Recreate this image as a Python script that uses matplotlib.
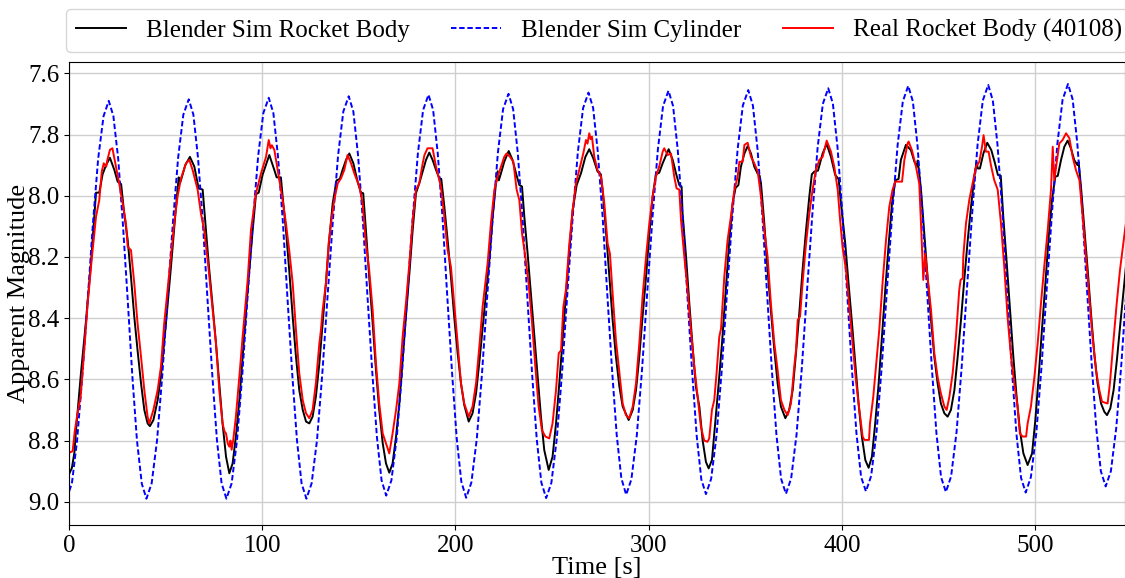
import numpy as np
import matplotlib
matplotlib.use("Agg")
import matplotlib.pyplot as plt
from matplotlib.ticker import FormatStrFormatter

plt.rcParams['font.family'] = 'serif'
plt.rcParams['font.serif'] = ['Liberation Serif', 'DejaVu Serif']

# Blender sim, cylinder (one row per rotation cycle)
cyl_t = [
    -1.3, 1.5, 4.2, 6.9, 9.7, 12.4, 15.1, 17.9, 20.6, 23.0, 25.5, 27.9, 30.4, 32.8, 35.2, 37.7,
    40.1, 42.8, 45.6, 48.3, 51.0, 53.8, 56.5, 59.2, 62.0, 64.4, 66.8, 69.3, 71.7, 74.2, 76.6, 79.0,
    81.5, 84.2, 87.0, 89.7, 92.4, 95.2, 97.9, 100.6, 103.4, 105.8, 108.2, 110.7, 113.1, 115.6, 118.0, 120.4,
    122.9, 125.6, 128.4, 131.1, 133.8, 136.6, 139.3, 142.0, 144.8, 147.2, 149.6, 152.1, 154.5, 157.0, 159.4, 161.8,
    164.2, 166.9, 169.7, 172.4, 175.1, 177.9, 180.6, 183.3, 186.1, 188.5, 190.9, 193.4, 195.8, 198.3, 200.7, 203.1,
    205.6, 208.3, 211.1, 213.8, 216.5, 219.3, 222.0, 224.7, 227.5, 229.9, 232.3, 234.8, 237.2, 239.7, 242.1, 244.5,
    247.0, 249.7, 252.5, 255.2, 257.9, 260.7, 263.4, 266.1, 268.9, 271.3, 273.7, 276.2, 278.6, 281.1, 283.5, 285.9,
    288.4, 291.1, 293.9, 296.6, 299.3, 302.1, 304.8, 307.5, 310.3, 312.7, 315.1, 317.6, 320.0, 322.5, 324.9, 327.3,
    329.7, 332.4, 335.2, 337.9, 340.6, 343.4, 346.1, 348.8, 351.6, 354.0, 356.4, 358.9, 361.3, 363.8, 366.2, 368.6,
    371.1, 373.8, 376.6, 379.3, 382.0, 384.8, 387.5, 390.2, 393.0, 395.4, 397.8, 400.3, 402.7, 405.2, 407.6, 410.0,
    412.5, 415.2, 418.0, 420.7, 423.4, 426.2, 428.9, 431.6, 434.4, 436.8, 439.2, 441.7, 444.1, 446.6, 449.0, 451.4,
    453.9, 456.6, 459.4, 462.1, 464.8, 467.6, 470.3, 473.0, 475.8, 478.2, 480.6, 483.1, 485.5, 488.0, 490.4, 492.8,
    495.2, 497.9, 500.7, 503.4, 506.1, 508.9, 511.6, 514.3, 517.1, 519.5, 521.9, 524.4, 526.8, 529.3, 531.7, 534.1,
    536.6, 539.3, 542.1, 544.8, 547.5,
]
cyl_mag = [
    8.990, 8.941, 8.800, 8.589, 8.340, 8.091, 7.880, 7.740, 7.690, 7.740, 7.880, 8.091, 8.340, 8.589, 8.800, 8.941,
    8.990, 8.940, 8.799, 8.587, 8.338, 8.088, 7.876, 7.735, 7.685, 7.735, 7.876, 8.088, 8.338, 8.587, 8.799, 8.940,
    8.990, 8.940, 8.798, 8.586, 8.335, 8.084, 7.872, 7.730, 7.680, 7.730, 7.872, 8.084, 8.335, 8.586, 8.798, 8.940,
    8.990, 8.940, 8.798, 8.584, 8.333, 8.081, 7.868, 7.725, 7.675, 7.725, 7.866, 8.078, 8.328, 8.577, 8.789, 8.930,
    8.980, 8.930, 8.788, 8.576, 8.325, 8.074, 7.862, 7.720, 7.670, 7.720, 7.863, 8.076, 8.328, 8.579, 8.793, 8.935,
    8.987, 8.937, 8.794, 8.580, 8.327, 8.075, 7.860, 7.717, 7.667, 7.717, 7.860, 8.075, 8.327, 8.580, 8.794, 8.937,
    8.988, 8.938, 8.794, 8.579, 8.326, 8.072, 7.857, 7.714, 7.663, 7.713, 7.855, 8.067, 8.318, 8.569, 8.781, 8.923,
    8.977, 8.927, 8.784, 8.570, 8.317, 8.065, 7.850, 7.707, 7.657, 7.707, 7.850, 8.065, 8.317, 8.570, 8.784, 8.927,
    8.975, 8.925, 8.782, 8.568, 8.315, 8.063, 7.848, 7.705, 7.655, 7.705, 7.848, 8.063, 8.315, 8.568, 8.782, 8.925,
    8.974, 8.924, 8.780, 8.565, 8.312, 8.058, 7.843, 7.700, 7.649, 7.699, 7.842, 8.057, 8.309, 8.562, 8.776, 8.919,
    8.966, 8.916, 8.772, 8.557, 8.304, 8.050, 7.835, 7.692, 7.641, 7.692, 7.836, 8.052, 8.306, 8.560, 8.776, 8.920,
    8.968, 8.917, 8.773, 8.557, 8.303, 8.049, 7.833, 7.689, 7.638, 7.689, 7.833, 8.050, 8.306, 8.561, 8.778, 8.922,
    8.970, 8.919, 8.775, 8.558, 8.303, 8.047, 7.830, 7.686, 7.635, 7.685, 7.828, 8.041, 8.293, 8.544, 8.758, 8.900,
    8.950, 8.900, 8.757, 8.543, 8.290,
]

# Blender sim, rocket body: (time s, magnitude)
body_points = [
    (0.0, 8.910), (1.5, 8.890), (2.8, 8.840), (3.6, 8.770), (6.2, 8.580), (8.8, 8.410), (11.4, 8.220),
    (14.0, 7.990), (15.7, 7.990), (17.4, 7.930), (19.2, 7.900), (21.2, 7.876), (23.5, 7.916), (25.2, 7.954),
    (27.0, 7.962), (28.6, 8.058), (30.4, 8.145), (32.1, 8.265), (33.8, 8.395), (35.5, 8.505), (37.3, 8.613),
    (39.0, 8.700), (40.7, 8.744), (41.9, 8.753), (43.7, 8.733), (45.9, 8.668), (47.6, 8.590), (50.2, 8.417),
    (52.8, 8.232), (55.4, 8.036), (56.8, 7.940), (57.3, 7.960), (58.0, 7.949), (60.2, 7.900), (62.6, 7.873),
    (64.9, 7.905), (67.1, 7.976), (69.2, 7.980), (70.6, 8.090), (72.3, 8.220), (74.4, 8.363), (76.1, 8.483),
    (77.8, 8.613), (79.5, 8.744), (81.3, 8.853), (83.0, 8.907), (84.7, 8.875), (86.4, 8.787), (88.2, 8.668),
    (89.9, 8.526), (92.5, 8.308), (95.1, 8.112), (96.8, 7.995), (98.2, 7.990), (100.2, 7.932), (103.7, 7.867),
    (106.3, 7.916), (107.5, 7.940), (109.7, 7.940), (110.6, 8.003), (112.3, 8.112), (114.0, 8.243),
    (115.8, 8.395), (117.5, 8.526), (119.2, 8.635), (121.0, 8.700), (122.7, 8.738), (124.4, 8.744),
    (126.1, 8.722), (127.8, 8.657), (129.6, 8.548), (131.3, 8.417), (133.0, 8.286), (134.7, 8.145),
    (136.5, 8.025), (138.5, 7.950), (140.2, 7.945), (141.6, 7.916), (143.4, 7.883), (145.1, 7.862),
    (147.2, 7.894), (149.4, 7.954), (151.1, 7.990), (152.3, 7.992), (153.7, 8.112), (155.4, 8.265),
    (157.2, 8.417), (158.9, 8.570), (160.6, 8.700), (162.4, 8.809), (164.1, 8.875), (165.8, 8.905),
    (167.5, 8.875), (169.3, 8.787), (171.0, 8.679), (172.7, 8.537), (174.4, 8.395), (176.2, 8.254),
    (177.9, 8.112), (179.6, 7.992), (181.3, 7.960), (183.1, 7.921), (184.8, 7.883), (186.5, 7.859),
    (188.2, 7.883), (190.0, 7.916), (191.7, 7.943), (192.7, 7.945), (194.3, 8.036), (196.0, 8.145),
    (197.7, 8.265), (199.4, 8.395), (201.2, 8.515), (202.9, 8.613), (204.6, 8.684), (206.9, 8.738),
    (208.9, 8.711), (210.7, 8.646), (212.7, 8.526), (215.0, 8.374), (217.6, 8.210), (219.3, 8.069),
    (221.0, 7.960), (221.9, 7.920), (222.5, 7.950), (223.6, 7.927), (225.3, 7.889), (227.6, 7.854),
    (229.6, 7.883), (231.4, 7.927), (233.1, 7.965), (234.5, 7.970), (235.7, 8.069), (237.4, 8.189),
    (239.1, 8.320), (240.9, 8.461), (242.6, 8.592), (244.3, 8.722), (246.0, 8.831), (248.3, 8.896),
    (250.3, 8.853), (252.1, 8.744), (253.8, 8.613), (255.5, 8.472), (257.2, 8.330), (259.0, 8.178),
    (260.7, 8.047), (262.8, 7.965), (265.0, 7.927), (267.3, 7.873), (269.3, 7.848), (271.4, 7.878),
    (273.6, 7.921), (275.3, 7.930), (276.2, 7.980), (277.9, 8.112), (279.7, 8.265), (281.4, 8.406),
    (283.1, 8.526), (284.9, 8.624), (286.6, 8.689), (289.7, 8.733), (291.8, 8.700), (293.5, 8.635),
    (295.2, 8.526), (296.9, 8.395), (298.7, 8.265), (300.4, 8.123), (302.1, 8.003), (303.8, 7.930),
    (305.5, 7.925), (307.3, 7.894), (310.4, 7.848), (312.5, 7.883), (314.2, 7.927), (315.9, 7.965),
    (317.1, 7.970), (317.6, 8.058), (319.4, 8.199), (321.1, 8.352), (322.8, 8.494), (324.5, 8.624),
    (326.3, 8.690), (328.0, 8.800), (329.7, 8.870), (331.1, 8.891), (332.8, 8.864), (334.5, 8.744),
    (336.3, 8.613), (338.0, 8.483), (340.1, 8.297), (341.8, 8.145), (343.5, 8.025), (345.0, 7.975),
    (346.5, 7.965), (347.8, 7.905), (349.6, 7.862), (351.3, 7.838), (353.0, 7.862), (354.7, 7.905),
    (356.4, 7.927), (357.5, 7.935), (358.2, 7.960), (359.9, 8.090), (361.6, 8.243), (363.3, 8.374),
    (365.1, 8.505), (366.8, 8.613), (368.5, 8.689), (370.8, 8.727), (372.8, 8.700), (374.6, 8.635),
    (376.3, 8.515), (378.0, 8.385), (379.7, 8.243), (381.5, 8.112), (383.2, 8.003), (384.5, 7.930),
    (385.8, 7.921), (387.7, 7.918), (390.1, 7.862), (392.2, 7.831), (394.4, 7.873), (396.6, 7.932),
    (398.4, 7.946), (399.4, 8.014), (401.8, 8.156), (403.5, 8.286), (405.3, 8.417), (407.0, 8.548),
    (408.7, 8.679), (410.4, 8.787), (412.2, 8.864), (413.9, 8.889), (415.6, 8.853), (417.3, 8.744),
    (419.1, 8.613), (420.8, 8.461), (422.5, 8.308), (424.3, 8.156), (426.0, 8.025), (427.7, 7.950),
    (429.4, 7.945), (430.6, 7.883), (433.2, 7.834), (435.8, 7.851), (437.6, 7.889), (438.9, 7.905),
    (439.3, 7.885), (439.8, 7.910), (441.0, 7.980), (442.7, 8.123), (444.4, 8.265), (446.2, 8.406),
    (447.9, 8.526), (449.6, 8.613), (451.3, 8.679), (453.1, 8.711), (454.8, 8.722), (456.5, 8.700),
    (458.3, 8.635), (460.0, 8.526), (461.7, 8.406), (463.4, 8.275), (465.2, 8.145), (466.9, 8.036),
    (468.6, 7.938), (469.8, 7.890), (470.4, 7.911), (471.5, 7.911), (473.3, 7.862), (475.3, 7.827),
    (477.4, 7.851), (479.1, 7.889), (480.8, 7.932), (482.3, 7.935), (483.6, 8.069), (485.4, 8.221),
    (487.1, 8.374), (488.8, 8.526), (490.5, 8.657), (492.2, 8.766), (494.0, 8.842), (496.2, 8.880),
    (498.5, 8.842), (500.2, 8.733), (501.9, 8.592), (503.6, 8.439), (505.4, 8.286), (507.1, 8.134),
    (508.8, 8.014), (510.5, 7.938), (511.8, 7.935), (513.5, 7.883), (515.2, 7.840), (516.9, 7.820),
    (518.6, 7.845), (520.3, 7.883), (522.0, 7.900), (522.6, 7.890), (523.8, 7.970), (525.5, 8.101),
    (527.3, 8.243), (529.0, 8.385), (530.7, 8.515), (532.4, 8.613), (534.2, 8.679), (535.9, 8.706),
    (537.3, 8.717), (539.0, 8.695), (540.7, 8.635), (542.4, 8.537), (544.2, 8.417), (546.6, 8.265),
    (548.0, 8.170),
]

# real rocket body 40108: (time s, magnitude)
real_points = [
    (0.0, 8.840), (1.9, 8.835), (3.0, 8.770), (4.2, 8.720), (5.3, 8.680), (6.0, 8.660), (7.9, 8.505),
    (9.7, 8.350), (11.9, 8.200), (14.0, 8.069), (15.7, 8.014), (17.0, 7.920), (18.0, 7.894), (19.3, 7.905),
    (19.8, 7.885), (21.2, 7.850), (22.5, 7.845), (24.3, 7.905), (26.0, 7.960), (27.8, 8.025), (29.5, 8.090),
    (30.4, 8.167), (32.1, 8.178), (33.8, 8.286), (35.5, 8.417), (37.3, 8.526), (39.0, 8.635), (40.7, 8.722),
    (41.6, 8.744), (43.7, 8.700), (45.9, 8.635), (47.6, 8.559), (49.3, 8.417), (51.9, 8.254), (54.5, 8.090),
    (56.2, 8.003), (58.0, 7.943), (60.6, 7.894), (62.3, 7.883), (64.0, 7.916), (66.6, 7.980), (68.3, 8.058),
    (70.0, 8.112), (71.8, 8.210), (73.5, 8.319), (76.1, 8.483), (77.8, 8.635), (79.5, 8.744), (80.5, 8.770),
    (81.3, 8.777), (82.2, 8.810), (83.0, 8.820), (83.6, 8.800), (84.2, 8.830), (85.0, 8.800), (86.4, 8.722),
    (88.2, 8.590), (89.9, 8.460), (92.5, 8.275), (94.2, 8.112), (96.8, 7.992), (99.4, 7.927), (102.0, 7.873),
    (103.4, 7.818), (104.3, 7.845), (105.0, 7.835), (106.3, 7.850), (108.9, 7.949), (110.6, 8.014),
    (112.3, 8.090), (114.0, 8.178), (115.8, 8.286), (117.5, 8.439), (119.2, 8.580), (121.0, 8.668),
    (122.7, 8.711), (124.4, 8.727), (126.1, 8.700), (127.8, 8.613), (129.6, 8.483), (130.4, 8.440),
    (131.3, 8.374), (133.0, 8.286), (134.4, 8.156), (135.6, 8.090), (137.3, 8.014), (139.1, 7.960),
    (140.8, 7.943), (142.5, 7.916), (144.2, 7.867), (146.0, 7.894), (147.7, 7.927), (150.3, 7.970),
    (152.0, 8.025), (153.7, 8.156), (155.4, 8.243), (157.2, 8.374), (158.9, 8.548), (160.6, 8.679),
    (162.4, 8.777), (164.1, 8.809), (165.8, 8.842), (167.5, 8.777), (169.3, 8.700), (171.0, 8.613),
    (172.7, 8.461), (174.4, 8.352), (176.2, 8.221), (177.9, 8.080), (179.6, 7.981), (181.3, 7.960),
    (183.1, 7.894), (184.0, 7.867), (185.6, 7.845), (188.2, 7.845), (190.0, 7.905), (192.5, 7.970),
    (194.3, 8.069), (196.0, 8.178), (197.7, 8.232), (199.4, 8.352), (201.2, 8.483), (202.9, 8.613),
    (204.6, 8.679), (206.9, 8.722), (208.9, 8.689), (210.7, 8.613), (212.4, 8.494), (214.1, 8.363),
    (216.7, 8.221), (218.4, 8.090), (220.2, 7.980), (221.9, 7.938), (223.6, 7.905), (225.3, 7.873),
    (226.5, 7.862), (228.3, 7.873), (230.0, 7.889), (231.7, 7.980), (233.1, 8.014), (234.5, 8.123),
    (236.2, 8.199), (237.9, 8.286), (239.7, 8.417), (241.4, 8.559), (243.1, 8.689), (244.8, 8.766),
    (246.6, 8.787), (248.6, 8.793), (250.3, 8.744), (252.1, 8.635), (253.5, 8.515), (254.7, 8.505),
    (255.9, 8.363), (257.2, 8.308), (259.0, 8.156), (260.7, 8.047), (262.4, 7.960), (264.5, 7.905),
    (266.2, 7.862), (267.6, 7.818), (268.4, 7.830), (269.3, 7.796), (270.0, 7.815), (270.7, 7.807),
    (271.9, 7.873), (273.6, 7.916), (275.4, 7.938), (277.1, 8.025), (278.8, 8.156), (280.0, 8.189),
    (281.4, 8.320), (283.1, 8.472), (284.9, 8.580), (286.6, 8.679), (288.3, 8.717), (290.0, 8.727),
    (291.8, 8.689), (293.5, 8.613), (295.2, 8.483), (296.9, 8.330), (298.7, 8.199), (300.4, 8.090),
    (302.1, 8.003), (303.8, 7.938), (305.5, 7.905), (307.3, 7.856), (308.1, 7.845), (309.9, 7.867),
    (311.6, 7.862), (313.3, 7.938), (314.5, 7.976), (315.9, 7.980), (316.8, 8.080), (318.5, 8.199),
    (320.2, 8.308), (321.9, 8.439), (323.7, 8.559), (325.4, 8.657), (327.1, 8.755), (328.8, 8.800),
    (330.5, 8.804), (331.4, 8.793), (332.8, 8.700), (334.0, 8.668), (335.2, 8.580), (336.6, 8.461),
    (337.5, 8.434), (339.2, 8.265), (340.9, 8.145), (342.6, 8.069), (344.4, 7.981), (346.1, 7.938),
    (347.0, 7.889), (348.7, 7.889), (349.6, 7.834), (351.3, 7.827), (353.0, 7.873), (354.7, 7.894),
    (356.5, 7.921), (358.2, 8.003), (359.9, 8.112), (361.6, 8.199), (363.3, 8.352), (365.1, 8.483),
    (366.8, 8.570), (368.5, 8.668), (370.3, 8.700), (372.0, 8.717), (373.7, 8.679), (375.4, 8.559),
    (376.3, 8.505), (377.2, 8.406), (378.4, 8.395), (379.7, 8.286), (381.5, 8.156), (383.2, 8.058),
    (384.9, 7.980), (386.6, 7.916), (388.4, 7.883), (390.1, 7.873), (392.2, 7.820), (394.4, 7.856),
    (396.1, 7.905), (397.9, 7.980), (399.0, 8.069), (400.4, 8.167), (402.2, 8.243), (403.9, 8.363),
    (405.6, 8.483), (407.3, 8.602), (409.1, 8.700), (410.8, 8.787), (411.7, 8.798), (414.1, 8.798),
    (414.6, 8.744), (416.3, 8.657), (417.7, 8.559), (419.4, 8.439), (421.1, 8.286), (422.9, 8.145),
    (424.6, 8.036), (426.3, 7.980), (427.7, 7.954), (431.2, 7.954), (432.4, 7.883), (434.1, 7.829),
    (434.6, 7.823), (436.3, 7.851), (438.4, 7.905), (440.1, 7.960), (441.0, 8.090), (442.2, 8.275),
    (443.2, 8.189), (444.4, 8.265), (446.2, 8.374), (447.9, 8.515), (449.6, 8.592), (451.3, 8.646),
    (453.1, 8.689), (454.3, 8.700), (455.7, 8.657), (457.4, 8.580), (459.1, 8.461), (460.8, 8.308),
    (461.5, 8.275), (462.6, 8.270), (462.9, 8.199), (464.3, 8.090), (466.0, 8.014), (467.7, 7.960),
    (469.5, 7.905), (471.2, 7.889), (472.6, 7.840), (473.4, 7.802), (474.6, 7.856), (476.0, 7.856),
    (477.2, 7.900), (478.9, 7.949), (480.7, 7.980), (482.4, 8.090), (484.1, 8.232), (485.8, 8.395),
    (487.6, 8.526), (489.3, 8.613), (491.0, 8.689), (492.2, 8.777), (493.6, 8.787), (495.4, 8.787),
    (496.2, 8.744), (497.9, 8.689), (499.7, 8.592), (501.4, 8.483), (503.1, 8.352), (504.8, 8.232),
    (506.6, 8.112), (508.3, 7.980), (509.2, 7.840), (510.0, 7.949), (511.2, 7.894), (512.6, 7.829),
    (514.3, 7.818), (516.1, 7.796), (517.8, 7.812), (519.5, 7.873), (521.2, 7.916), (523.0, 7.949),
    (524.7, 8.069), (526.4, 8.199), (528.1, 8.330), (529.8, 8.461), (531.6, 8.570), (533.3, 8.635),
    (534.7, 8.673), (537.6, 8.679), (538.8, 8.613), (540.5, 8.483), (542.3, 8.352), (544.0, 8.243),
    (546.6, 8.112), (548.0, 8.050),
]

x_ticks = [0, 100, 200, 300, 400, 500]
y_ticks = [7.6, 7.8, 8.0, 8.2, 8.4, 8.6, 8.8, 9.0]

body_t, body_mag = np.array(body_points).T
real_t, real_mag = np.array(real_points).T

fig = plt.figure(figsize=(11.25, 5.78), dpi=100)
ax = fig.add_axes([0.0613, 0.0917, 0.9387, 0.8016])

ax.plot(body_t, body_mag, color='k', lw=1.4, label='Blender Sim Rocket Body')
ax.plot(cyl_t, cyl_mag, color='b', ls='--', dashes=(2.8, 1.4), lw=1.4, label='Blender Sim Cylinder')
ax.plot(real_t, real_mag, color='r', lw=1.4, label='Real Rocket Body (40108)')

ax.set_xlim(0, 546.6)
ax.set_ylim(9.076, 7.562)
ax.set_xticks(x_ticks)
ax.set_yticks(y_ticks)
ax.yaxis.set_major_formatter(FormatStrFormatter('%.1f'))
ax.tick_params(labelsize=18)
ax.grid(True, color='#cfcfcf', lw=1.0)
ax.set_axisbelow(True)
ax.set_xlabel('Time [s]', fontsize=19, labelpad=0)
ax.set_ylabel('Apparent Magnitude', fontsize=19)
ax.yaxis.set_label_coords(-0.037, 0.5)

ax.legend(loc='lower left', bbox_to_anchor=(-0.003, 1.02, 1.01, 0.1), mode='expand',
          ncol=3, fontsize=18, borderaxespad=0)

fig.savefig('out.png', dpi=100)
